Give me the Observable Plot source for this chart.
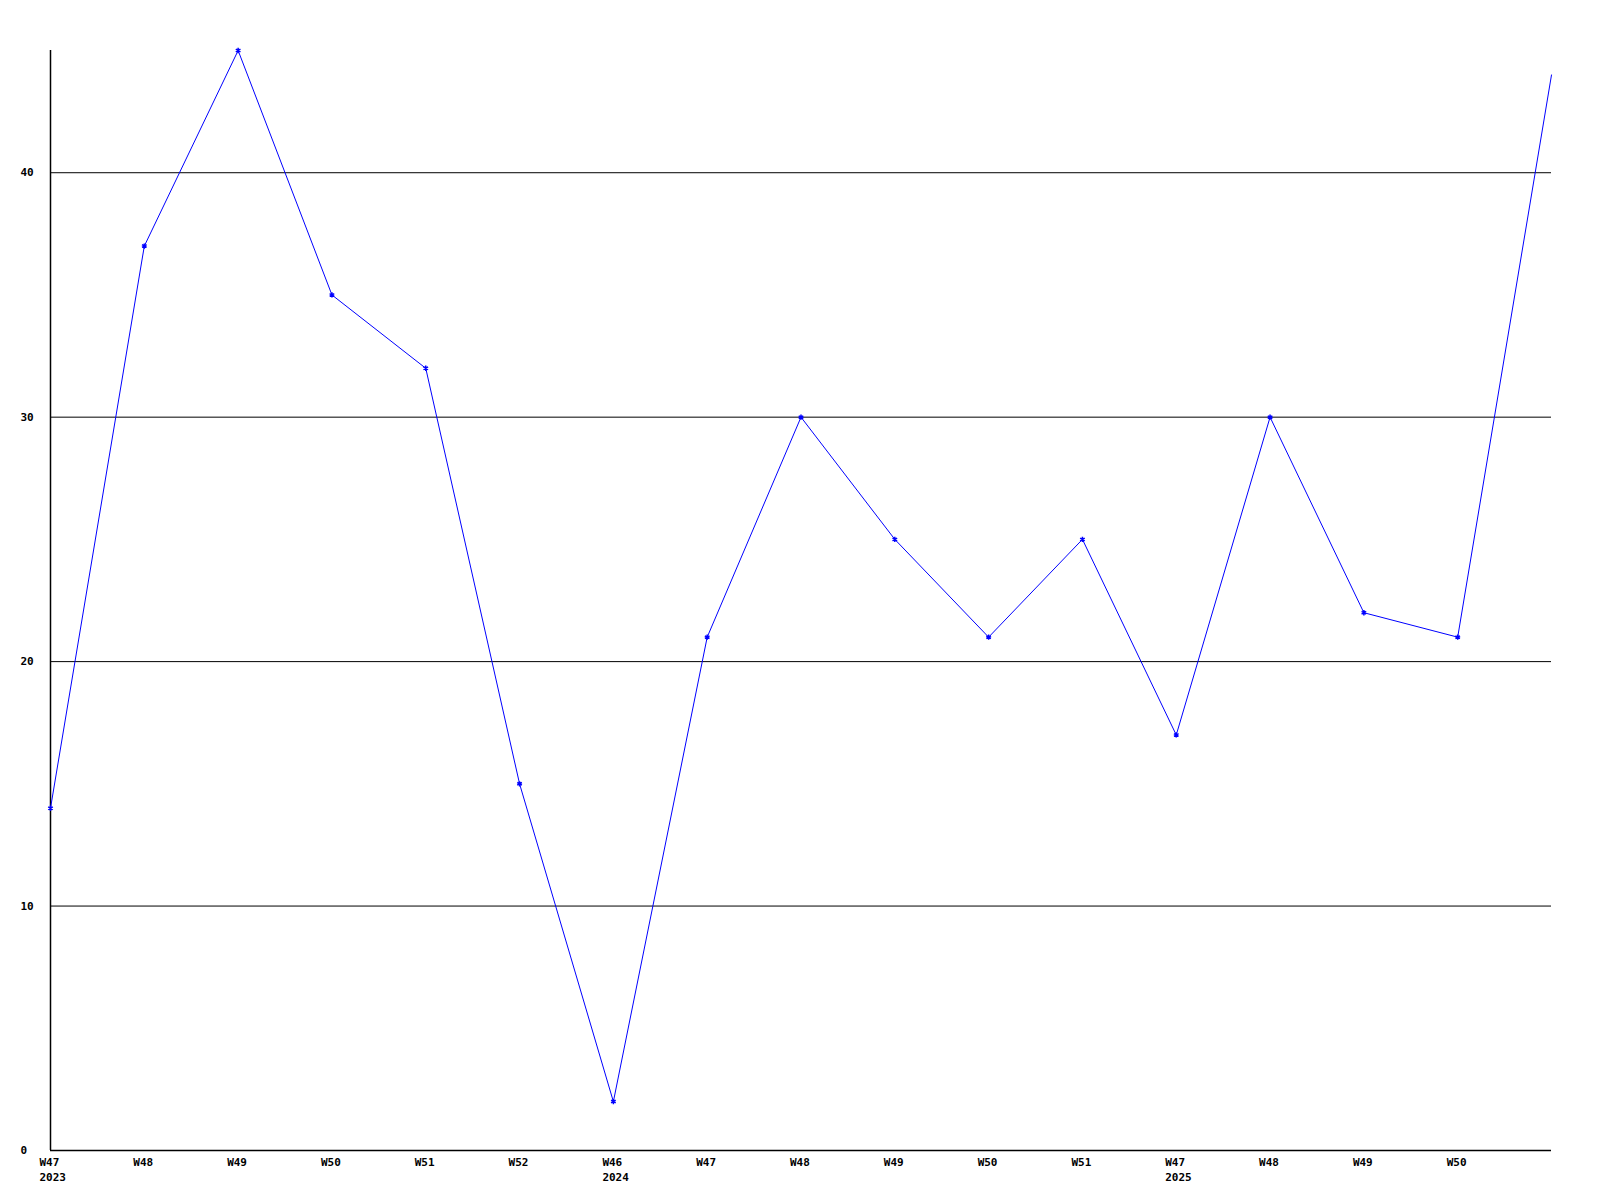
<!DOCTYPE html>
<html>
<head>
<meta charset="utf-8">
<script src="https://cdn.jsdelivr.net/npm/d3@7"></script>
<script src="https://cdn.jsdelivr.net/npm/@observablehq/plot@0.6"></script>
<style>
  html, body { margin: 0; padding: 0; background: #fff; }
  #chart svg { display: block; }
</style>
</head>
<body>
<div id="chart"></div>
<script>
const weekLabels = ["W47","W48","W49","W50","W51","W52","W46","W47","W48","W49","W50","W51","W47","W48","W49","W50",""];
const yearLabels = ["2023","","","","","","2024","","","","","","2025","","","",""];
const values = [14, 37, 45, 35, 32, 15, 2, 21, 30, 25, 21, 25, 17, 30, 22, 21, 44];
const yTicks = [0, 10, 20, 30, 40];
const gridLines = [10, 20, 30, 40];

const data = values.map((v, i) => ({i, v, week: weekLabels[i], year: yearLabels[i]}));
const labelData = data.filter(d => d.week !== "");
const markerData = data.slice(0, data.length - 1);

const font = "'DejaVu Sans Mono', monospace";

const chart = Plot.plot({
  width: 1600,
  height: 1200,
  marginLeft: 50,
  marginRight: 49,
  marginTop: 50,
  marginBottom: 50,
  style: {background: "#fff", fontFamily: font},
  x: {type: "linear", domain: [0, values.length - 1], axis: null},
  y: {domain: [0, 45], axis: null},
  marks: [
    Plot.ruleY(gridLines, {stroke: "#000", strokeWidth: 1}),
    Plot.ruleY([0], {stroke: "#000", strokeWidth: 1.5}),
    Plot.ruleX([0], {y1: 0, y2: 45, stroke: "#000", strokeWidth: 1.5}),
    Plot.line(data, {x: "i", y: "v", stroke: "#0000ff", strokeWidth: 1}),
    Plot.dot(markerData, {x: "i", y: "v", symbol: "asterisk", r: 2.5, stroke: "#0000ff", strokeWidth: 1.5}),
    Plot.text(yTicks, {y: d => d, text: d => String(d), frameAnchor: "left", dx: -30, textAnchor: "start",
      fontSize: 11, fontWeight: "bold", fill: "#000", fontFamily: font}),
    Plot.text(labelData, {x: "i", text: d => d.year ? d.week + "\n" + d.year : d.week,
      frameAnchor: "bottom", lineAnchor: "top", dy: 5, dx: -11, textAnchor: "start", lineHeight: 1.36,
      fontSize: 11, fontWeight: "bold", fill: "#000", fontFamily: font})
  ]
});
document.getElementById("chart").appendChild(chart);
</script>
</body>
</html>
